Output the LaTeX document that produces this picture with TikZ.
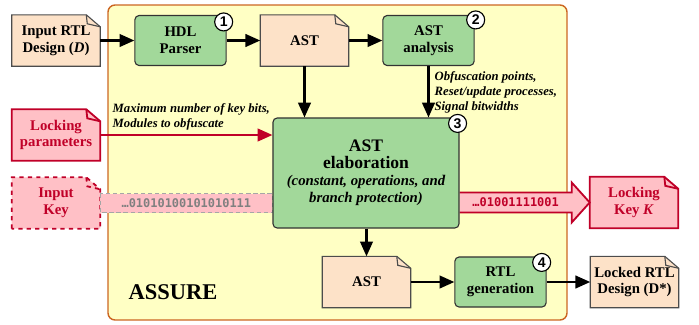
\documentclass[tikz,border=0pt]{standalone}
\usepackage{fontspec}
\setmainfont{Liberation Serif}
\newfontfamily\bitfont{DejaVu Sans Mono}
\newfontfamily\numfont{Liberation Sans}
\usetikzlibrary{
    arrows.meta,
    calc,
    positioning,
    backgrounds
}
\definecolor{assurebg}{RGB}{255,255,196}
\definecolor{assureline}{RGB}{204,102,34}
\definecolor{docfill}{RGB}{253,226,200}
\definecolor{stagefill}{RGB}{162,216,154}
\definecolor{lockred}{RGB}{192,0,40}
\definecolor{lockfill}{RGB}{255,192,198}
\tikzset{
    txt/.style={font=\fontsize{10.5}{12}\selectfont\bfseries, align=center},
    stage/.style={txt, draw=black!80, fill=stagefill, line width=0.8pt, rounded corners=3pt,
        minimum width=2.28cm, minimum height=1.25cm, inner sep=1pt},
    doc/.style={txt, minimum width=2.2cm, minimum height=1.27cm, inner sep=1pt},
    lockdoc/.style={doc, text=lockred},
    num/.style={circle, draw=black, fill=white, line width=0.8pt, inner sep=0pt,
        minimum size=0.45cm, font=\numfont\bfseries\fontsize{10}{10}\selectfont},
    flow/.style={line width=1.5pt, -{Triangle[length=10.5pt,width=9pt]}},
    note/.style={font=\fontsize{9}{10.5}\selectfont\bfseries\itshape, align=left,
        anchor=north west, inner sep=1pt},
    bits/.style={font=\bitfont\bfseries\fontsize{8.5}{10}\selectfont, inner sep=0pt}
}
\newcommand{\docshape}[2]{
    \draw[#1] (#2.south west) -- (#2.north west) -- ($(#2.north east)+(-14,0)$)
        -- ($(#2.north east)+(0,12)$) -- (#2.south east) -- cycle;
    \draw[#1, fill=none] ($(#2.north east)+(-14,0)$) -- ($(#2.north east)+(-13,9)$)
        -- ($(#2.north east)+(0,12)$);
}

\begin{document}
\begin{tikzpicture}[x=0.025cm, y=-0.025cm]
    \useasboundingbox (0,0) rectangle (699,324);
    \node[doc] (indesign) at (56,40.5) {Input RTL\\Design (\textit{D})};
    \node[stage] (hdl) at (180.5,40.5) {HDL\\Parser};
    \node[doc] (ast) at (304.5,40.5) {AST};
    \node[stage] (analysis) at (428.5,40.5) {AST\\analysis};
    \node[lockdoc] (lockpar) at (56,135) {Locking\\parameters};
    \node[lockdoc] (inkey) at (56,203) {Input\\Key};
    \node[stage, minimum width=4.65cm, minimum height=2.75cm] (elab) at (366,173)
        {\fontsize{12.5}{16}\selectfont AST\\
         \fontsize{12.5}{16}\selectfont elaboration\\
         \fontsize{10.5}{12.5}\selectfont\itshape (constant, operations, and\\
         \fontsize{10.5}{12.5}\selectfont\itshape branch protection)};
    \node[lockdoc] (lockkey) at (634,202.5) {Locking\\Key \textit{K}};
    \node[doc] (astout) at (366.5,282) {AST};
    \node[stage] (rtlgen) at (500.5,282) {RTL\\generation};
    \node[doc] (locked) at (634.5,282) {Locked RTL\\Design (D*)};
    \node[font=\fontsize{16}{18}\selectfont\bfseries] (assure) at (173,292) {ASSURE};

    \node[num] (n1) at ($(hdl.north east)+(-3,7)$) {1};
    \node[num] (n2) at ($(analysis.north east)+(1,5)$) {2};
    \node[num] (n3) at ($(elab.north east)+(-2,6)$) {3};
    \node[num] (n4) at ($(rtlgen.north east)+(-5,6)$) {4};

    \node[note] (points) at (433,70) {Obfuscation points,\\Reset/update processes,\\Signal bitwidths};
    \node[note] (params) at (111,102) {Maximum number of key bits,\\Modules to obfuscate};

    \draw[flow] (indesign) -- (hdl);
    \draw[flow] (hdl) -- (ast);
    \draw[flow] (ast) -- (analysis);
    \draw[flow] (ast.south) -- (ast.south |- elab.north);
    \draw[flow] (analysis.south) -- (analysis.south |- elab.north);
    \draw[flow, lockred] (lockpar.east) -- (lockpar.east -| elab.west);
    \draw[flow] (elab.south -| astout.north) -- (astout.north);
    \draw[flow] (astout) -- (rtlgen);
    \draw[flow] (rtlgen) -- (locked);

    \coordinate (outs) at (elab.east |- lockkey.west);
    \coordinate (outh) at ($(lockkey.west)+(-18,0)$);
    \node[bits, text=black!50] (inbits) at ($(inkey.east)!0.5!(inkey.east -| elab.west)$) {…01010100101010111};
    \node[bits, text=lockred] (outbits) at ($(outs)!0.5!(outh)$) {…01001111001};

    \begin{scope}[on background layer]
        \draw[assureline, fill=assurebg, line width=1pt, rounded corners=5pt] (108,5) rectangle (567,320);
        \docshape{draw=black!70, fill=docfill, line width=0.8pt}{indesign}
        \docshape{draw=black!70, fill=docfill, line width=0.8pt}{ast}
        \docshape{draw=black!70, fill=docfill, line width=0.8pt}{astout}
        \docshape{draw=black!70, fill=docfill, line width=0.8pt}{locked}
        \docshape{draw=lockred, fill=lockfill, line width=1.3pt}{lockpar}
        \docshape{draw=lockred, fill=lockfill, line width=1.3pt}{lockkey}
        \docshape{draw=lockred, fill=lockfill, line width=1.3pt, dashed}{inkey}
        \draw[black!35, fill=lockfill, densely dashed, line width=0.4pt]
            ($(inkey.east)+(0,-9.5)$) rectangle ($(inkey.east -| elab.west)+(0,9.5)$);
        \draw[lockred, fill=lockfill, line width=1.3pt, line join=miter]
            ($(outs)+(0,-10)$) -- ($(outh)+(0,-10)$) -- ($(outh)+(0,-20)$) -- (lockkey.west)
            -- ($(outh)+(0,20)$) -- ($(outh)+(0,10)$) -- ($(outs)+(0,10)$);
    \end{scope}
\end{tikzpicture}
\end{document}
